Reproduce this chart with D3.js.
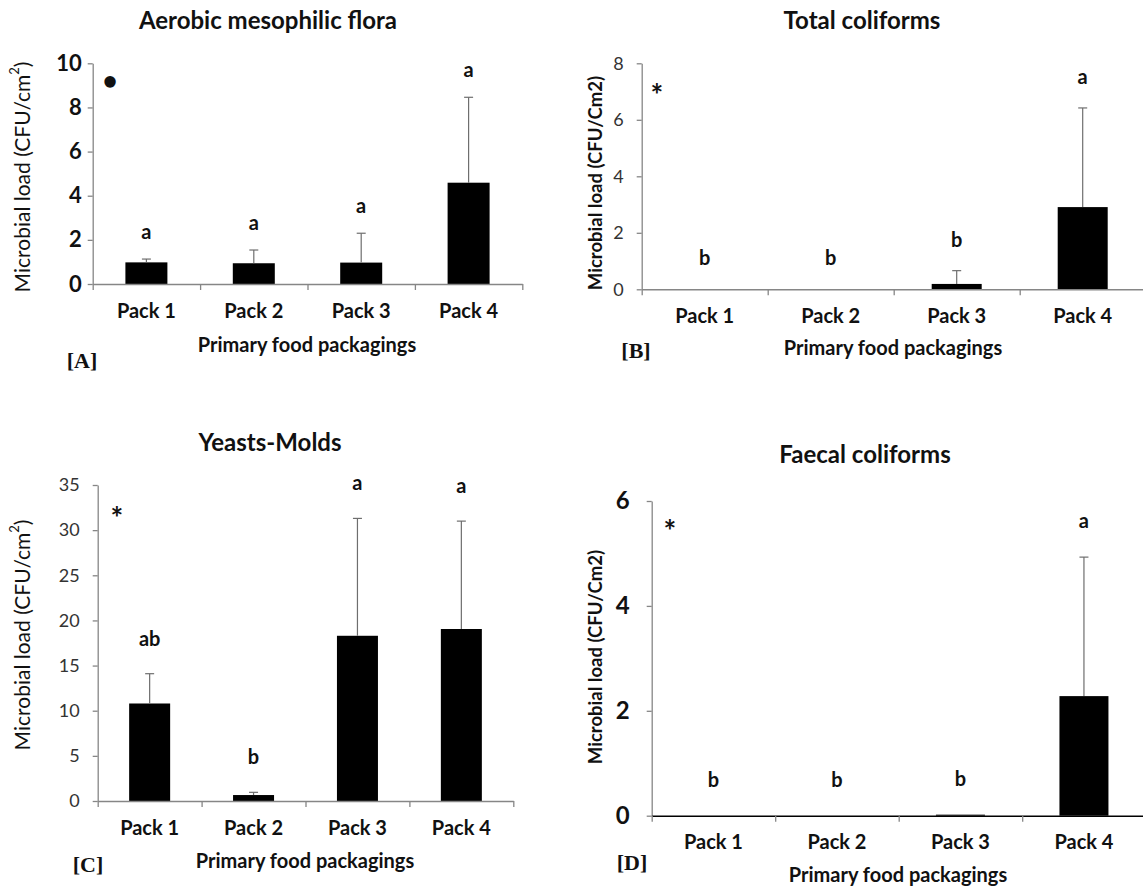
<!DOCTYPE html>
<html>
<head>
<meta charset="utf-8">
<script src="https://cdn.jsdelivr.net/npm/d3@7"></script>
<style>
  html, body { margin: 0; padding: 0; background: #fff; }
  svg { display: block; }
  text { font-family: Lato, 'Open Sans', sans-serif; fill: #111; }
  text.tag { font-family: 'Liberation Serif', 'DejaVu Serif', serif; }
</style>
</head>
<body>
<div id="chart"></div>
<script>
// categories
const packs = ['Pack 1', 'Pack 2', 'Pack 3', 'Pack 4'];

// [A] aerobic mesophilic flora
const aerobicMeans = [0.98, 0.94, 0.97, 4.59];
const aerobicSD = [0.15, 0.6, 1.33, 3.87];
const aerobicLetters = ['a', 'a', 'a', 'a'];
const aerobicTicks = [0, 2, 4, 6, 8, 10];

// [B] total coliforms
const totalMeans = [0.01, 0.01, 0.19, 2.91];
const totalSD = [0, 0, 0.47, 3.51];
const totalLetters = ['b', 'b', 'b', 'a'];
const totalTicks = [0, 2, 4, 6, 8];

// [C] yeasts-molds
const yeastMeans = [10.8, 0.66, 18.3, 19.05];
const yeastSD = [3.3, 0.3, 13.0, 11.95];
const yeastLetters = ['ab', 'b', 'a', 'a'];
const yeastTicks = [0, 5, 10, 15, 20, 25, 30, 35];

// [D] faecal coliforms
const faecalMeans = [0, 0, 0.02, 2.28];
const faecalSD = [0, 0, 0, 2.65];
const faecalLetters = ['b', 'b', 'b', 'a'];
const faecalTicks = [0, 2, 4, 6];

const svg = d3
  .select('#chart')
  .append('svg')
  .attr('width', 1143)
  .attr('height', 888);

const panels = [
  {
    title: 'Aerobic mesophilic flora', tag: '[A]',
    means: aerobicMeans, sd: aerobicSD, letters: aerobicLetters, ticks: aerobicTicks,
    left: 92.7, catW: 107.4, top: 63.3, bottom: 284, barW: 42,
    titleX: 268, titleY: 23, xTitleX: 307, xTitleY: 347, tagX: 82, tagY: 363,
    catY: 313, yLabelX: 25, yLabelY: 177, yLabelBold: false, sup: true,
    tickBold: true, tickSize: 22, tickPad: 6, letterGap: 20,
    mark: '•', markX: 110, markVal: 9.1, markSize: 26, xAxisColor: '#868686',
  },
  {
    title: 'Total coliforms', tag: '[B]',
    means: totalMeans, sd: totalSD, letters: totalLetters, ticks: totalTicks,
    left: 641.7, catW: 126, top: 63.3, bottom: 289.3, barW: 50,
    titleX: 862, titleY: 23, xTitleX: 893, xTitleY: 350, tagX: 636, tagY: 353,
    catY: 318, yLabelX: 597, yLabelY: 183, yLabelBold: true, sup: false,
    tickBold: false, tickSize: 18, tickPad: 13, letterGap: 24,
    mark: '*', markX: 657, markVal: 7.08, markSize: 30, xAxisColor: '#868686',
  },
  {
    title: 'Yeasts-Molds', tag: '[C]',
    means: yeastMeans, sd: yeastSD, letters: yeastLetters, ticks: yeastTicks,
    left: 97.7, catW: 103.9, top: 485, bottom: 801, barW: 41,
    titleX: 270, titleY: 445, xTitleX: 305, xTitleY: 863, tagX: 88, tagY: 867,
    catY: 830, yLabelX: 25, yLabelY: 635, yLabelBold: false, sup: true,
    tickBold: false, tickSize: 18, tickPad: 13, letterGap: 28,
    mark: '*', markX: 117, markVal: 32.0, markSize: 30, xAxisColor: '#868686',
  },
  {
    title: 'Faecal coliforms', tag: '[D]',
    means: faecalMeans, sd: faecalSD, letters: faecalLetters, ticks: faecalTicks,
    left: 651.7, catW: 123.5, top: 501, bottom: 815.7, barW: 49,
    titleX: 865, titleY: 457, xTitleX: 898, xTitleY: 877, tagX: 632, tagY: 865,
    catY: 844, yLabelX: 597, yLabelY: 657, yLabelBold: true, sup: false,
    tickBold: true, tickSize: 24, tickPad: 17, letterGap: 29,
    mark: '*', markX: 670, markVal: 5.54, markSize: 30, xAxisColor: '#000',
  },
];

const drawPanel = (p) => {
  const g = svg.append('g');
  const yMax = p.ticks[p.ticks.length - 1];
  const right = p.left + packs.length * p.catW;
  const pad = 1 - p.barW / p.catW;

  const xScale = d3
    .scaleBand()
    .domain(packs)
    .range([p.left, right])
    .paddingInner(pad)
    .paddingOuter(pad / 2);

  const xEdge = d3.scaleLinear().domain([0, packs.length]).range([p.left, right]);
  const yScale = d3.scaleLinear().domain([0, yMax]).range([p.bottom, p.top]);

  // bars
  g.selectAll('rect.bar')
    .data(p.means)
    .enter()
    .append('rect')
    .attr('class', 'bar')
    .attr('x', (d, i) => xScale(packs[i]))
    .attr('width', xScale.bandwidth())
    .attr('y', (d) => yScale(d))
    .attr('height', (d) => p.bottom - yScale(d))
    .attr('fill', '#000');

  // error bars (upper only)
  const cx = (i) => xScale(packs[i]) + xScale.bandwidth() / 2;
  p.means.forEach((m, i) => {
    if (p.sd[i] <= 0) return;
    const yt = yScale(m + p.sd[i]);
    g.append('line')
      .attr('x1', cx(i)).attr('x2', cx(i))
      .attr('y1', yScale(m)).attr('y2', yt)
      .attr('stroke', '#6e6e6e').attr('stroke-width', 1.2);
    g.append('line')
      .attr('x1', cx(i) - 4.5).attr('x2', cx(i) + 4.5)
      .attr('y1', yt).attr('y2', yt)
      .attr('stroke', '#6e6e6e').attr('stroke-width', 1.2);
  });

  // significance letters
  g.selectAll('text.letter')
    .data(p.letters)
    .enter()
    .append('text')
    .attr('class', 'letter')
    .attr('x', (d, i) => cx(i))
    .attr('y', (d, i) => yScale(p.means[i] + p.sd[i]) - p.letterGap)
    .attr('text-anchor', 'middle')
    .attr('font-size', 20)
    .attr('font-weight', 700)
    .text((d) => d);

  // y axis
  const yAxis = d3
    .axisLeft(yScale)
    .tickValues(p.ticks)
    .tickSize(5)
    .tickSizeOuter(0)
    .tickPadding(p.tickPad)
    .tickFormat(d3.format('d'));
  const ya = g.append('g').attr('transform', `translate(${p.left},0)`).call(yAxis);
  ya.select('.domain').attr('stroke', '#868686').attr('stroke-width', 1.3);
  ya.selectAll('.tick line').attr('stroke', '#868686').attr('stroke-width', 1.3);
  ya.selectAll('.tick text')
    .attr('font-size', p.tickSize)
    .attr('font-weight', p.tickBold ? 700 : 400)
    .style('fill', p.tickBold ? '#111' : '#333');

  // x axis with ticks on category edges
  const xAxis = d3
    .axisBottom(xEdge)
    .tickValues(d3.range(packs.length + 1))
    .tickSize(6)
    .tickSizeOuter(0)
    .tickFormat('');
  const xa = g.append('g').attr('transform', `translate(0,${p.bottom})`).call(xAxis);
  xa.select('.domain').attr('stroke', p.xAxisColor).attr('stroke-width', 1.4);
  xa.selectAll('.tick line').attr('stroke', '#868686').attr('stroke-width', 1.3);

  // category labels
  g.selectAll('text.cat')
    .data(packs)
    .enter()
    .append('text')
    .attr('class', 'cat')
    .attr('x', (d) => xScale(d) + xScale.bandwidth() / 2)
    .attr('y', p.catY)
    .attr('dominant-baseline', 'middle')
    .attr('text-anchor', 'middle')
    .attr('font-size', 20)
    .attr('font-weight', 700)
    .text((d) => d);

  // titles
  g.append('text')
    .attr('x', p.titleX).attr('y', p.titleY)
    .attr('dominant-baseline', 'middle')
    .attr('text-anchor', 'middle')
    .attr('font-size', 24)
    .attr('font-weight', 700)
    .text(p.title);

  g.append('text')
    .attr('x', p.xTitleX).attr('y', p.xTitleY)
    .attr('dominant-baseline', 'middle')
    .attr('text-anchor', 'middle')
    .attr('font-size', 20)
    .attr('font-weight', 700)
    .text('Primary food packagings');

  g.append('text')
    .attr('class', 'tag')
    .attr('x', p.tagX).attr('y', p.tagY)
    .attr('dominant-baseline', 'middle')
    .attr('text-anchor', 'middle')
    .attr('font-size', 22)
    .attr('font-weight', 700)
    .text(p.tag);

  const yl = g
    .append('text')
    .attr('transform', `translate(${p.yLabelX},${p.yLabelY}) rotate(-90)`)
    .attr('dominant-baseline', 'middle')
    .attr('text-anchor', 'middle')
    .attr('font-size', p.yLabelBold ? 18.5 : 21)
    .attr('font-weight', p.yLabelBold ? 700 : 400);
  if (p.sup) {
    yl.append('tspan').text('Microbial load (CFU/cm');
    yl.append('tspan').attr('dy', -9).attr('font-size', 13).text('2');
    yl.append('tspan').attr('dy', 9).text(')');
  } else {
    yl.text('Microbial load (CFU/Cm2)');
  }

  // marker in upper-left corner
  g.append('text')
    .attr('x', p.markX).attr('y', yScale(p.markVal))
    .attr('dominant-baseline', 'middle')
    .attr('text-anchor', 'middle')
    .attr('font-size', p.markSize)
    .attr('font-weight', 700)
    .attr('dy', p.mark === '*' ? '0.3em' : 0)
    .text(p.mark);
};

panels.forEach(drawPanel);
</script>
</body>
</html>
